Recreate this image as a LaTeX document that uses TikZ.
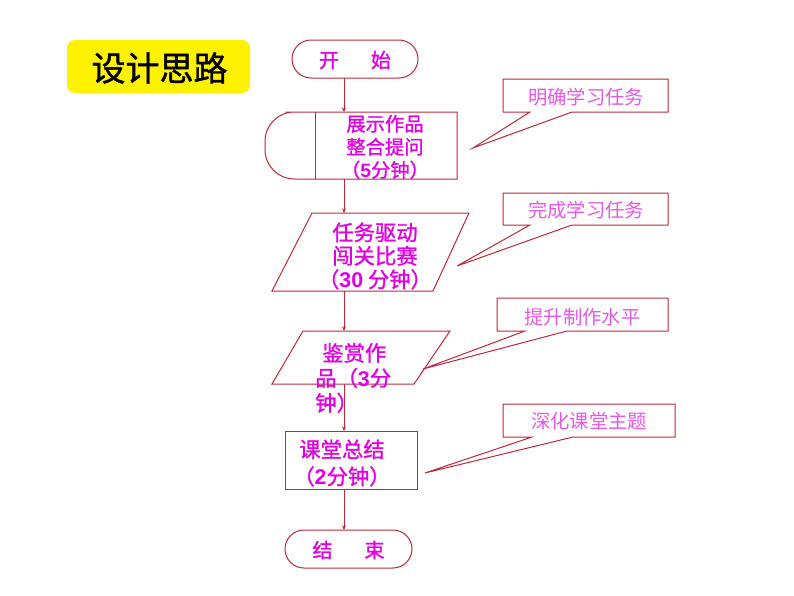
\documentclass[tikz,border=0pt]{standalone}
\usepackage{fontspec}
\setmainfont{Noto Sans CJK SC}
\newfontfamily\heavy{Noto Sans CJK SC}[FakeBold=1.2]
\newfontfamily\digf{Liberation Sans}
\usetikzlibrary{arrows.meta}
\definecolor{lc}{RGB}{190,40,60}
\definecolor{ft}{RGB}{225,0,225}
\definecolor{ct}{RGB}{228,90,228}
\newcommand{\dg}[1]{{\digf\bfseries #1}}
\begin{document}
\begin{tikzpicture}[x=0.75pt,y=-0.75pt,
  shp/.style={draw=lc, line width=0.75pt, fill=white},
  ftxt/.style={text=ft, align=center, inner sep=0pt},
  ctxt/.style={text=ct, inner sep=0pt, font=\fontsize{14.5}{16}\selectfont},
  conn/.style={draw=lc, line width=0.75pt, -{Stealth[length=3.5pt,width=3pt]}}]
\useasboundingbox[fill=white] (0,0) rectangle (794,596);

% title
\node[fill=yellow, rounded corners=6pt, minimum width=137.25pt, minimum height=39.75pt, inner sep=0pt] (title) at (158.5,66.5) {};
\node[inner sep=0pt, font=\heavy\fontsize{25.5}{28}\selectfont] (titlet) at (159.5,68) {设计思路};

% start
\node[shp, rounded corners=14.25pt, minimum width=94.5pt, minimum height=28.5pt, inner sep=0pt] (start) at (355,59) {};
\node[ftxt, font=\heavy\fontsize{15}{17}\selectfont] (startt) at (355,60) {开\hspace{1.6em}始};

% box 1
\draw[shp] (315,112) -- (457,112) -- (457,179) -- (315,179) [rounded corners=22pt] -- (265,179) -- (265,112) -- cycle;
\draw[lc, line width=0.75pt] (315,112) -- (315,179);
\node[ftxt, font=\heavy\fontsize{14.5}{17.3}\selectfont] (b1t) at (385,147) {展示作品\\整合提问\\（\dg{5}分钟）};

% parallelogram 1
\draw[shp] (312,213) -- (469,213) -- (433,291) -- (272,291) -- cycle;
\node[ftxt, font=\heavy\fontsize{16}{17.6}\selectfont] (p1t) at (375,256) {任务驱动\\闯关比赛\\（\dg{30} 分钟）};

% parallelogram 2
\draw[shp] (303,331) -- (450,331) -- (414,384) -- (272,384) -- cycle;
\node[text=ft, align=left, inner sep=0pt, anchor=west, font=\heavy\fontsize{16}{18.75}\selectfont] (p2t) at (315,378) {\hspace*{0.33em}鉴赏作\\品（\dg{3}分\\钟）};

% box 3
\draw[shp] (285,431) rectangle (417,489);
\node[minimum width=99pt, minimum height=43.5pt, inner sep=0pt] (b3) at (351,460) {};
\node[ftxt, font=\heavy\fontsize{16}{20.25}\selectfont] (b3t) at (342,463) {课堂总结\\（\dg{2}分钟）};

% end
\node[shp, rounded corners=14.25pt, minimum width=95.25pt, minimum height=28.5pt, inner sep=0pt] (end) at (348.5,549) {};
\node[ftxt, font=\heavy\fontsize{15}{17}\selectfont] (endt) at (348.5,550) {结\hspace{1.6em}束};

% connector coordinates
\coordinate (c0a) at (344,78);   \coordinate (c0b) at (344,112);
\coordinate (c1a) at (344,179);  \coordinate (c1b) at (344,213);
\coordinate (c2a) at (344,291);  \coordinate (c2b) at (344,331);
\coordinate (c3a) at (344,384);  \coordinate (c3b) at (344,431);
\coordinate (c4a) at (344,489);  \coordinate (c4b) at (344,530);
\draw[conn] (c0a) -- (c0b);
\draw[conn] (c1a) -- (c1b);
\draw[conn] (c2a) -- (c2b);
\draw[conn] (c3a) -- (c3b);
\draw[conn] (c4a) -- (c4b);

% callouts
\draw[shp] (503,79) -- (668,79) -- (668,112) -- (572,112) -- (473,148) -- (530,112) -- (503,112) -- cycle;
\node[ctxt] (k1) at (586,97) {明确学习任务};

\draw[shp] (503,193) -- (668,193) -- (668,225) -- (572,225) -- (457,266) -- (530,225) -- (503,225) -- cycle;
\node[ctxt] (k2) at (586,210) {完成学习任务};

\draw[shp] (497,298) -- (668,298) -- (668,331) -- (567,331) -- (423,369) -- (525,331) -- (497,331) -- cycle;
\node[ctxt] (k3) at (582.5,317) {提升制作水平};

\draw[shp] (503,404) -- (675,404) -- (675,437) -- (573,437) -- (425,473) -- (532,437) -- (503,437) -- cycle;
\node[ctxt] (k4) at (589,421) {深化课堂主题};
\end{tikzpicture}
\end{document}
